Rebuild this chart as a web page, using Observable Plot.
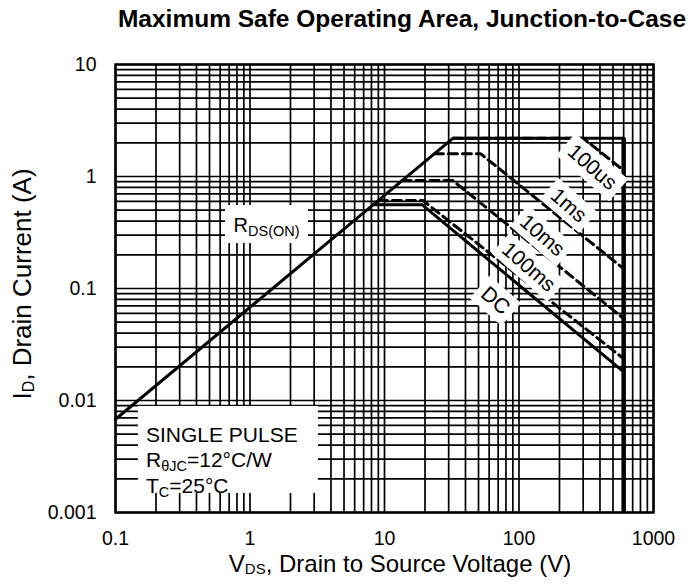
<!DOCTYPE html>
<html><head><meta charset="utf-8">
<script src="https://cdn.jsdelivr.net/npm/d3@7"></script>
<script src="https://cdn.jsdelivr.net/npm/@observablehq/plot@0.6"></script>
<style>
body{margin:0;background:#fff;}
svg{display:block;}
</style>
</head><body><div id="chart"></div>
<script>
// ---- data ----
const xTickValues = [0.1, 1, 10, 100, 1000];
const xTickLabels = ["0.1", "1", "10", "100", "1000"];
const yTickValues = [0.001, 0.01, 0.1, 1, 10];
const yTickLabels = ["0.001", "0.01", "0.1", "1", "10"];
const xDecades = [0.1, 1, 10, 100];
const yDecades = [0.001, 0.01, 0.1, 1];
const gridMultipliers = [1, 2, 3, 4, 5, 6, 7, 8, 9];

// outer SOA limit (RDS(ON) line + current limit)
const limitV = [0.1, 32.4, 600];
const limitI = [0.0068, 2.2, 2.2];
// voltage limit wall
const wallV = [600];
const wallI = [0.001, 2.2];

const seriesNames = ["100us", "1ms", "10ms", "100ms", "DC"];
const seriesV = [
  [32.4, 300, 600],
  [23.5, 51.7, 600],
  [13.5, 32.2, 600],
  [9.0, 19.3, 600],
  [8.3, 19.0, 600]
];
const seriesI = [
  [2.2, 2.2, 1.13],
  [1.6, 1.6, 0.15],
  [0.92, 0.92, 0.054],
  [0.61, 0.61, 0.0236],
  [0.56, 0.56, 0.018]
];
// label anchors (data units)
const labelV = [350, 234, 149, 118, 66.8];
const labelI = [1.21, 0.551, 0.297, 0.155, 0.078];

// annotation boxes (data units)
const rdsBox = {x1: 0.658, x2: 2.72, y1: 0.252, y2: 0.551};
const noteBox = {x1: 0.148, x2: 3.23, y1: 0.00148, y2: 0.00885};
const rdsAnchor = {x: 1.34, y: 0.373};
const noteAnchor = {x: 0.17, y: 0.00422};

// ---- derived tables ----
const xGrid = xDecades.flatMap(d => gridMultipliers.map(m => d * m)).concat([1000]);
const yGrid = yDecades.flatMap(d => gridMultipliers.map(m => d * m)).concat([10]);
const limitRows = limitV.map((v, k) => ({v, i: limitI[k]}));
const curveRows = seriesNames.flatMap((s, j) => seriesV[j].map((v, k) => ({s, v, i: seriesI[j][k]})));
const labelRows = seriesNames.map((s, j) => ({s, v: labelV[j], i: labelI[j]}));

// ---- styles ----
const FONT = "'Liberation Sans', Arial, Helvetica, sans-serif";
const ANGLE = 41;
const boxWidth = {"100us": 70, "1ms": 52, "10ms": 62, "100ms": 74, "DC": 42};
const boxHeight = {"100us": 29, "1ms": 28, "10ms": 28, "100ms": 28, "DC": 30};
function rotatedRect(w, h, deg) {
  const a = deg * Math.PI / 180, c = Math.cos(a), s = Math.sin(a);
  return {
    draw(ctx) {
      const pts = [[-w/2, -h/2], [w/2, -h/2], [w/2, h/2], [-w/2, h/2]].map(([x, y]) => [x*c - y*s, x*s + y*c]);
      ctx.moveTo(pts[0][0], pts[0][1]);
      for (let k = 1; k < 4; k++) ctx.lineTo(pts[k][0], pts[k][1]);
      ctx.closePath();
    }
  };
}

const labelBoxMarks = seriesNames.map(s =>
  Plot.dot(labelRows.filter(d => d.s === s), {
    x: "v", y: "i", r: 10, symbol: rotatedRect(boxWidth[s], boxHeight[s], ANGLE),
    fill: "white", stroke: "none"
  })
);

const chart = Plot.plot({
  width: 690,
  height: 587,
  marginLeft: 115,
  marginRight: 37,
  marginTop: 64,
  marginBottom: 75,
  style: {fontFamily: FONT, fontSize: "19.5px", color: "black", background: "white"},
  x: {type: "log", domain: [0.1, 1000], label: null, ticks: xTickValues,
      tickFormat: d => xTickLabels[xTickValues.indexOf(d)], tickSize: 0, tickPadding: 19},
  y: {type: "log", domain: [0.001, 10], label: null, ticks: yTickValues,
      tickFormat: d => yTickLabels[yTickValues.indexOf(d)], tickSize: 0, tickPadding: 19},
  marks: [
    Plot.ruleX(xGrid, {stroke: "black", strokeWidth: 1.7}),
    Plot.ruleY(yGrid, {stroke: "black", strokeWidth: 1.7}),
    Plot.line(limitRows, {x: "v", y: "i", stroke: "black", strokeWidth: 3}),
    Plot.ruleX(wallV, {y1: wallI[0], y2: wallI[1], stroke: "black", strokeWidth: 4.5}),
    Plot.line(curveRows.filter(d => d.s !== "DC"), {x: "v", y: "i", z: "s", stroke: "black", strokeWidth: 3, strokeDasharray: "9,5"}),
    Plot.line(curveRows.filter(d => d.s === "DC"), {x: "v", y: "i", stroke: "black", strokeWidth: 3}),
    ...labelBoxMarks,
    Plot.text(labelRows, {x: "v", y: "i", text: "s", rotate: ANGLE, fontSize: 21, fill: "black"}),
    Plot.rect([rdsBox], {x1: "x1", x2: "x2", y1: "y1", y2: "y2", fill: "white"}),
    Plot.rect([noteBox], {x1: "x1", x2: "x2", y1: "y1", y2: "y2", fill: "white"}),
    Plot.frame({stroke: "black", strokeWidth: 2.5})
  ]
});

document.getElementById("chart").appendChild(chart);

const svg = d3.select(chart);
const xs = chart.scale("x"), ys = chart.scale("y");

// title
svg.append("text")
  .attr("x", 402).attr("y", 27).attr("text-anchor", "middle")
  .attr("font-family", FONT).attr("font-weight", "bold").attr("font-size", 24.5)
  .attr("fill", "black")
  .text("Maximum Safe Operating Area, Junction-to-Case");

// x label
const xl = svg.append("text")
  .attr("x", 400).attr("y", 572).attr("text-anchor", "middle")
  .attr("font-family", FONT).attr("font-size", 24).attr("fill", "black");
xl.append("tspan").text("V");
xl.append("tspan").attr("font-size", 15).attr("dy", 2).text("DS");
xl.append("tspan").attr("dy", -2).text(", Drain to Source Voltage (V)");

// y label
const yl = svg.append("text")
  .attr("transform", "translate(31,284) rotate(-90)").attr("text-anchor", "middle")
  .attr("font-family", FONT).attr("font-size", 26).attr("fill", "black");
yl.append("tspan").text("I");
yl.append("tspan").attr("font-size", 16).attr("dy", 3).text("D");
yl.append("tspan").attr("dy", -3).text(", Drain Current (A)");

// RDS(ON) label
const rl = svg.append("text")
  .attr("x", xs.apply(rdsAnchor.x)).attr("y", ys.apply(rdsAnchor.y) + 8).attr("text-anchor", "middle")
  .attr("font-family", FONT).attr("font-size", 20).attr("fill", "black");
rl.append("tspan").text("R");
rl.append("tspan").attr("font-size", 14.5).attr("dy", 4).text("DS(ON)");

// SINGLE PULSE note
const nx = xs.apply(noteAnchor.x), ny = ys.apply(noteAnchor.y);
const note = svg.append("g").attr("font-family", FONT).attr("font-size", 21).attr("fill", "black").attr("text-anchor", "start");
note.append("text").attr("x", nx).attr("y", ny).attr("text-anchor", "start").text("SINGLE PULSE");
const l2 = note.append("text").attr("x", nx).attr("y", ny + 25.5).attr("text-anchor", "start");
l2.append("tspan").text("R");
l2.append("tspan").attr("font-size", 14.5).attr("dy", 4).text("θJC");
l2.append("tspan").attr("dy", -4).text("=12°C/W");
const l3 = note.append("text").attr("x", nx).attr("y", ny + 51).attr("text-anchor", "start");
l3.append("tspan").text("T");
l3.append("tspan").attr("font-size", 14.5).attr("dy", 4).text("C");
l3.append("tspan").attr("dy", -4).text("=25°C");
</script>
</body></html>
